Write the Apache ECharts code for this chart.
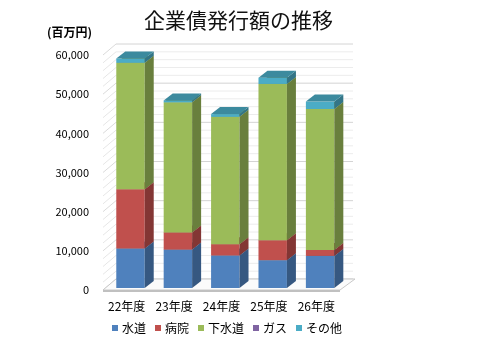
<!DOCTYPE html>
<html>
<head>
<meta charset="utf-8">
<script src="https://cdn.jsdelivr.net/npm/echarts@6/dist/echarts.min.js"></script>
<style>
  html, body { margin: 0; padding: 0; background: #fff; }
  #chart { width: 477px; height: 351px; }
</style>
</head>
<body>
<div id="chart"></div>
<script>
// 値は百万円
const categories = ['22年度', '23年度', '24年度', '25年度', '26年度'];
const suido   = [10100, 9800, 8300, 7100, 8200];
const byoin   = [15100, 4400, 2900, 5100, 1500];
const gesuido = [32300, 33200, 32500, 39900, 36000];
const gas     = [0, 0, 0, 0, 0];
const sonota  = [1100, 500, 700, 1600, 1900];

const seriesNames  = ['水道', '病院', '下水道', 'ガス', 'その他'];
const seriesValues = [suido, byoin, gesuido, gas, sonota];
const colors = ['#4F81BD', '#C0504D', '#9BBB59', '#8064A2', '#4BACC6'];

const FONT = '"Noto Sans CJK JP", "Noto Sans", sans-serif';

// 3D look
const DX = 9, DY = 7;      // bar depth
const BX = 3.8, BY = 2;    // bar set back from front edge
const WX = 13, WY = 11;    // wall depth

function shade(hex, k) {
  const n = parseInt(hex.slice(1), 16);
  const r = Math.round(((n >> 16) & 255) * k);
  const g = Math.round(((n >> 8) & 255) * k);
  const b = Math.round((n & 255) * k);
  return 'rgb(' + r + ',' + g + ',' + b + ')';
}

function barRender(color) {
  return function (params, api) {
    const i = api.value(0), lo = api.value(1), hi = api.value(2);
    if (hi <= lo) return;
    const pLo = api.coord([i, lo]);
    const pHi = api.coord([i, hi]);
    const w = api.size([1, 0])[0] * 0.6;
    const x0 = pLo[0] - w / 2 + BX, x1 = x0 + w;
    const yb = pLo[1] - BY, yt = pHi[1] - BY;
    return {
      type: 'group',
      children: [
        { type: 'rect', shape: { x: x0, y: yt, width: w, height: yb - yt }, style: { fill: color } },
        { type: 'polygon', shape: { points: [[x1, yb], [x1 + DX, yb - DY], [x1 + DX, yt - DY], [x1, yt]] }, style: { fill: shade(color, 0.68) } },
        { type: 'polygon', shape: { points: [[x0, yt], [x1, yt], [x1 + DX, yt - DY], [x0 + DX, yt - DY]] }, style: { fill: shade(color, 0.8) } }
      ]
    };
  };
}

function wallRender(params, api) {
  const cs = params.coordSys;
  const x0 = cs.x, x1 = cs.x + cs.width;
  const kids = [];
  for (let v = 0; v <= 60000; v += 2000) {
    const y = api.coord([0, v])[1];
    const major = v % 10000 === 0;
    const c = major ? '#d4d4d4' : '#ececec';
    kids.push({ type: 'line', shape: { x1: x0 + WX, y1: y - WY, x2: x1 + WX, y2: y - WY }, style: { stroke: c, lineWidth: 1 } });
    kids.push({ type: 'line', shape: { x1: x0, y1: y, x2: x0 + WX, y2: y - WY }, style: { stroke: major ? '#dadada' : '#e6e6e6', lineWidth: 1 } });
  }
  const yb = api.coord([0, 0])[1];
  kids.push({ type: 'polygon', shape: { points: [[x0, yb], [x1, yb], [x1 + WX + 2, yb - WY], [x0 + WX, yb - WY]] }, style: { fill: '#fbfbfb', stroke: '#c8c8c8', lineWidth: 1 } });
  kids.push({ type: 'line', shape: { x1: x0, y1: yb + 1, x2: x1, y2: yb + 1 }, style: { stroke: '#c0c0c0', lineWidth: 2 } });
  return { type: 'group', children: kids };
}

// stack bases
const stacked = [];
const base = categories.map(() => 0);
seriesValues.forEach(vals => {
  stacked.push(vals.map((v, i) => {
    const item = [i, base[i], base[i] + v];
    base[i] += v;
    return item;
  }));
});

const chart = echarts.init(document.getElementById('chart'));
const option = {
  animation: false,
  title: [
    { text: '企業債発行額の推移', left: 'center', top: 10, padding: 0,
      textStyle: { fontSize: 21, fontWeight: 'normal', color: '#111', fontFamily: FONT } },
    { text: '(百万円)', right: 385, top: 26, padding: 0,
      textStyle: { fontSize: 12, fontWeight: 'bold', color: '#000', fontFamily: FONT } }
  ],
  legend: {
    data: seriesNames,
    left: 112, top: 322, padding: 0,
    icon: 'rect', itemWidth: 6, itemHeight: 6, itemGap: 9,
    textStyle: { fontSize: 12, color: '#000', fontFamily: FONT, padding: [0, 0, 0, -1] }
  },
  grid: { left: 103, right: 137, top: 55, bottom: 61 },
  xAxis: {
    type: 'category',
    data: categories,
    axisLine: { show: false },
    axisTick: { show: false },
    axisLabel: { interval: 0, margin: 10, fontSize: 12, color: '#000', fontFamily: FONT }
  },
  yAxis: {
    type: 'value',
    min: 0, max: 60000, interval: 10000,
    axisLine: { show: false },
    axisTick: { show: false },
    splitLine: { show: false },
    axisLabel: {
      margin: 14, fontSize: 11, color: '#000', fontFamily: FONT,
      formatter: v => v.toLocaleString('en-US')
    }
  },
  series: [
    { type: 'custom', silent: true, z: 0, data: [[0]], renderItem: wallRender }
  ].concat(seriesNames.map((name, s) => ({
    name: name,
    type: 'custom',
    z: 2,
    itemStyle: { color: colors[s] },
    encode: { x: 0, y: [1, 2] },
    data: stacked[s],
    renderItem: barRender(colors[s])
  })))
};
chart.setOption(option);
</script>
</body>
</html>
